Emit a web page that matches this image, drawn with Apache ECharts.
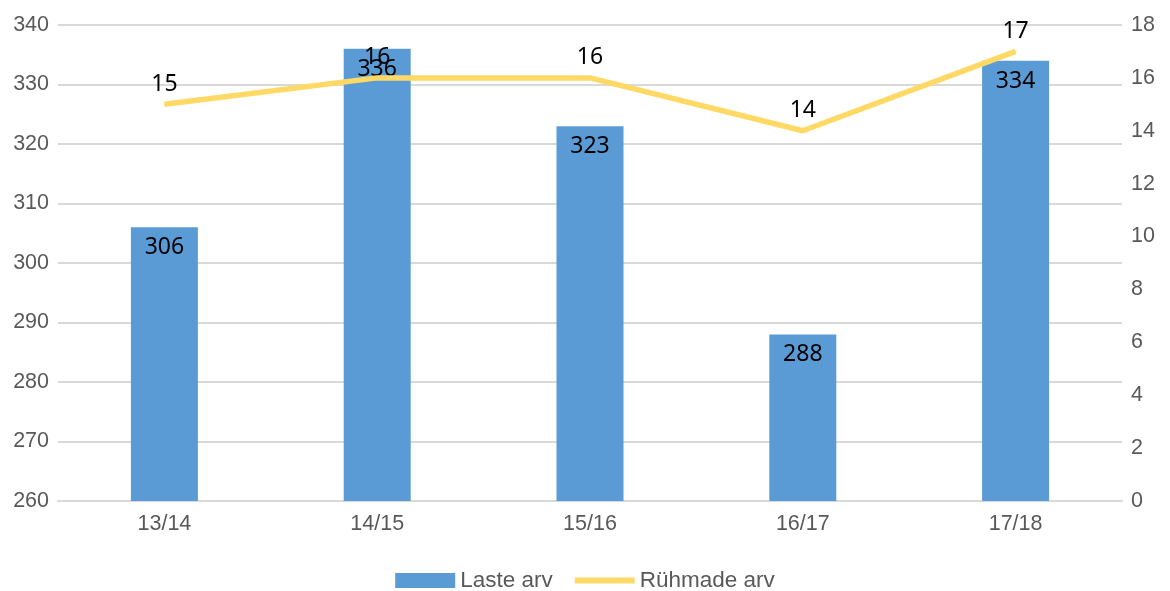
<!DOCTYPE html>
<html>
<head>
<meta charset="utf-8">
<script src="https://cdn.jsdelivr.net/npm/echarts@6/dist/echarts.min.js"></script>
<style>
  html, body { margin: 0; padding: 0; background: #fff; }
  #main { width: 1170px; height: 591px; }
</style>
</head>
<body>
<div id="main"></div>
<script>
var categories = ['13/14', '14/15', '15/16', '16/17', '17/18'];
var lasteArv = [306, 336, 323, 288, 334];
var ryhmadeArv = [15, 16, 16, 14, 17];

var chart = echarts.init(document.getElementById('main'));
var axisText = { color: '#595959', fontSize: 21.5, fontFamily: 'Liberation Sans, Arial, sans-serif' };

var option = {
  animation: false,
  grid: { left: 58, right: 48, top: 25, bottom: 90 },
  legend: {
    bottom: -6,
    itemGap: 22,
    itemWidth: 60,
    itemHeight: 15,
    textStyle: { color: '#595959', fontSize: 22.5, fontFamily: 'Liberation Sans, Arial, sans-serif' },
    data: [
      { name: 'Laste arv', icon: 'rect' },
      { name: 'Rühmade arv', icon: 'path://M0,0L60,0L60,6L0,6Z' }
    ]
  },
  xAxis: {
    type: 'category',
    data: categories,
    axisLine: { lineStyle: { color: '#d9d9d9', width: 2 } },
    axisTick: { show: false },
    axisLabel: Object.assign({ margin: 12 }, axisText)
  },
  yAxis: [
    {
      type: 'value',
      min: 260, max: 340, interval: 10,
      axisLine: { show: false },
      axisTick: { show: false },
      splitLine: { lineStyle: { color: '#d9d9d9', width: 2 } },
      axisLabel: Object.assign({ margin: 9 }, axisText)
    },
    {
      type: 'value',
      min: 0, max: 18, interval: 2,
      axisLine: { show: false },
      axisTick: { show: false },
      splitLine: { show: false },
      axisLabel: Object.assign({ margin: 9 }, axisText)
    }
  ],
  series: [
    {
      name: 'Laste arv',
      type: 'bar',
      data: lasteArv,
      barWidth: 67,
      itemStyle: { color: '#5b9bd5' },
      label: {
        show: true,
        position: 'insideTop',
        distance: 9,
        color: '#000',
        fontSize: 23,
        fontFamily: 'Noto Sans, sans-serif'
      }
    },
    {
      name: 'Rühmade arv',
      type: 'line',
      yAxisIndex: 1,
      data: ryhmadeArv,
      symbol: 'circle',
      symbolSize: 1,
      lineStyle: { color: '#ffd966', width: 5.5 },
      itemStyle: { color: '#ffd966' },
      label: {
        show: true,
        position: 'top',
        distance: 8,
        color: '#000',
        fontSize: 23,
        fontFamily: 'Noto Sans, sans-serif'
      }
    }
  ]
};

chart.setOption(option);
</script>
</body>
</html>
